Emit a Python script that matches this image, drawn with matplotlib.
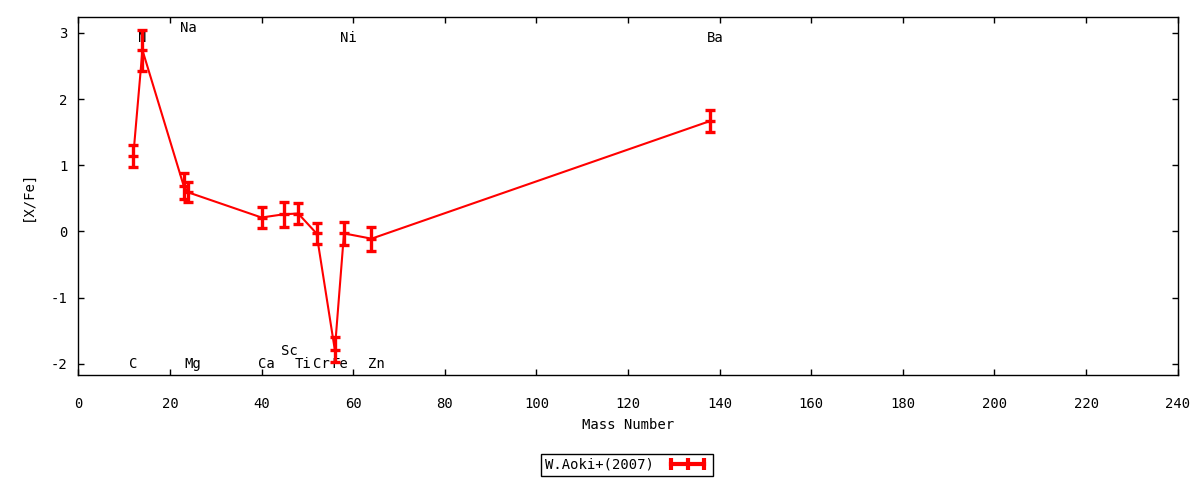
import matplotlib
matplotlib.use("Agg")
import matplotlib.pyplot as plt
from matplotlib.lines import Line2D

plt.rcParams['font.family'] = ['DejaVu Sans Mono']
plt.rcParams['font.size'] = 10
plt.rcParams['axes.unicode_minus'] = False

# abundance data
elements = ["C", "N", "Na", "Mg", "Ca", "Sc", "Ti", "Cr", "Fe", "Ni", "Zn", "Ba"]
mass = [12, 14, 23, 24, 40, 45, 48, 52, 56, 58, 64, 138]
xfe = [1.14, 2.74, 0.69, 0.59, 0.21, 0.26, 0.27, -0.03, -1.79, -0.03, -0.11, 1.67]
err = [0.16, 0.31, 0.20, 0.15, 0.16, 0.19, 0.16, 0.16, 0.19, 0.17, 0.18, 0.17]

# where the element names sit
label_x = [12, 14, 24, 25, 41, 46, 49, 53, 57, 59, 65, 139]
label_y = [-2.01, 2.92, 3.07, -2.01, -2.01, -1.80, -2.01, -2.01, -2.01, 2.92, -2.01, 2.92]

fig = plt.figure(figsize=(12, 4.8), dpi=100)
ax = fig.add_axes([78.3/1200, 1 - 375/480, 1099.4/1200, 358/480])

ax.errorbar(mass, xfe, yerr=err, color='#ff0000', lw=1.5, elinewidth=2.4,
            capsize=3.8, capthick=2.4, marker='_', ms=7.5, mew=2.4, zorder=3)

for name, lx, ly in zip(elements, label_x, label_y):
    ax.text(lx, ly, name, ha='center', va='center', fontsize=10, zorder=2)

ax.set_xlim(0, 240)
ax.set_ylim(-2.17, 3.24)
ax.set_xticks(range(0, 241, 20))
ax.set_yticks(range(-2, 4))
ax.tick_params(direction='in', top=True, right=True, length=4, width=1)
ax.tick_params(axis='x', pad=16)
ax.tick_params(axis='y', pad=8)
for s in ax.spines.values():
    s.set_linewidth(1)

ax.set_xlabel("Mass Number", labelpad=5)
ax.set_ylabel("[X/Fe]", labelpad=11)

h = Line2D([], [], color='#ff0000', lw=3, marker='|', ms=8, mew=3)
leg = fig.legend(handles=[h], labels=["W.Aoki+(2007)"], numpoints=3, markerfirst=False,
                 loc='center', bbox_to_anchor=(627/1200, 1 - 465/480), fancybox=False,
                 edgecolor='black', framealpha=1, handlelength=3.0, borderpad=0.3,
                 handletextpad=0.9, borderaxespad=0)
leg.get_frame().set_linewidth(1)

fig.savefig("out.png", dpi=100)
